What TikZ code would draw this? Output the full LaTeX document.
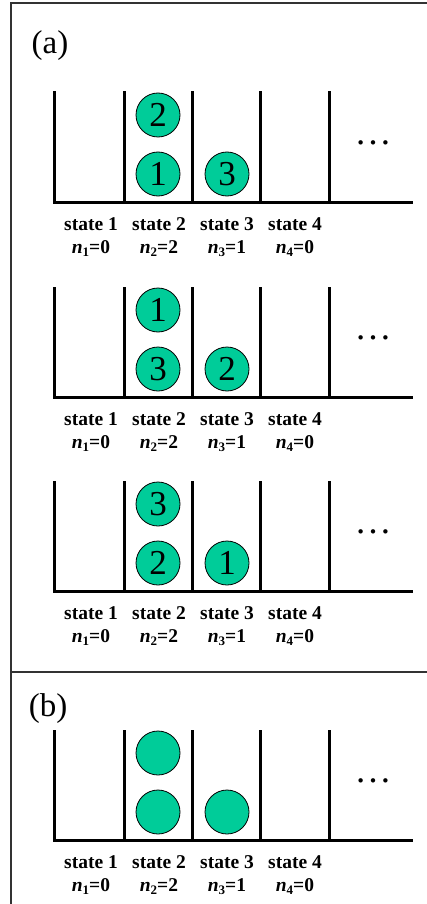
\documentclass[tikz,border=0pt]{standalone}
\usepackage{fontspec}
\setmainfont{Liberation Serif}
\definecolor{ballgreen}{RGB}{0,204,153}
\definecolor{framegray}{RGB}{50,50,50}
\newcommand{\lowsub}[1]{\raisebox{-0.35ex}{\fontsize{13}{13}\selectfont #1}}
\tikzset{
  wall/.style={line width=3pt, line cap=rect},
  ballnode/.style={circle, draw=black, line width=0.8pt, fill=ballgreen, minimum size=44pt, inner sep=0pt, font=\fontsize{35}{35}\selectfont},
  statelbl/.style={anchor=base, inner sep=0pt, font=\bfseries\fontsize{19.5}{19.5}\selectfont},
  panellbl/.style={anchor=base, inner sep=0pt, font=\fontsize{33}{33}\selectfont},
  dotslbl/.style={inner sep=0pt, font=\fontsize{37}{37}\selectfont},
  framestyle/.style={line width=2pt, draw=framegray}
}
\begin{document}
\begin{tikzpicture}[x=1pt,y=-1pt]
\useasboundingbox (0,0) rectangle (427,904);
% frame
\draw[framestyle] (427,3) -- (11,3) -- (11,904);
\draw[framestyle] (11,672) -- (427,672);
% panel labels
\node[panellbl] (la) at (50,54) {(a)};
\node[panellbl] (lb) at (48,716) {(b)};
% rows
\foreach \b/\t/\c/\d/\r in {202/2/1/3/r1, 397/1/3/2/r2, 591/3/2/1/r3, 840/{}/{}/{}/r4}{
  \draw[wall] (54,\b-109) -- (54,\b) -- (411,\b);
  \foreach \x in {124,192,260,329}{
    \draw[wall] (\x,\b-109) -- (\x,\b);
  }
  \node[ballnode] (\r top) at (158,\b-87) {\t};
  \node[ballnode] (\r bot) at (158,\b-28) {\c};
  \node[ballnode] (\r right) at (227,\b-28) {\d};
  \node[dotslbl] (\r dots) at (373,\b-59) {\ldots};
  \foreach \x/\i/\n in {91/1/0,159/2/2,227/3/1,295/4/0}{
    \node[statelbl] (\r s\i) at (\x,\b+28) {state \i};
    \node[statelbl] (\r n\i) at (\x,\b+51) {\textit{n}\lowsub{\i}=\n};
  }
}
\end{tikzpicture}
\end{document}
